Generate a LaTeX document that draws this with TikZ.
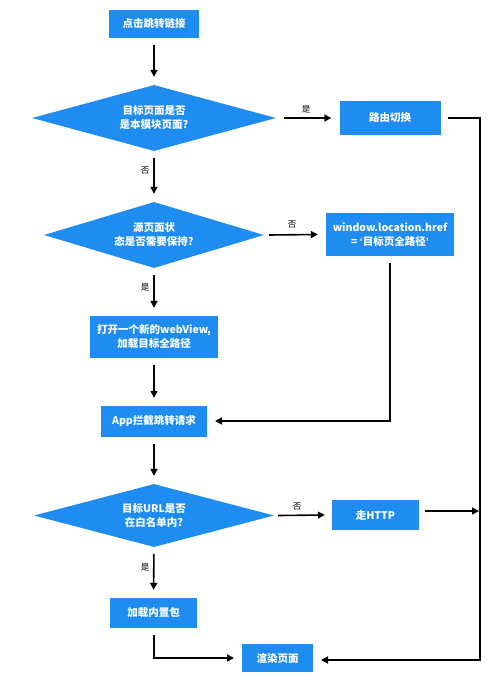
\documentclass[tikz,border=0pt]{standalone}
\usepackage{fontspec}
\setmainfont{Noto Sans CJK SC}
\newfontfamily\latinfont{Liberation Sans}
\usetikzlibrary{shapes.geometric,arrows.meta}
\definecolor{flowblue}{RGB}{30,140,240}
\begin{document}
\begin{tikzpicture}[x=1pt,y=-1pt,
  box/.style={fill=flowblue,text=white,font=\fontsize{10.5}{14}\selectfont\bfseries,align=center,inner sep=0pt,anchor=center},
  dec/.style={diamond,fill=flowblue,text=white,font=\fontsize{10.5}{14}\selectfont\bfseries,align=center,inner sep=0pt,aspect=3.6},
  lbl/.style={font=\fontsize{8.5}{10}\selectfont,text=black},
  arr/.style={line width=1.6pt,-{Triangle[length=7pt,width=7pt]}},
  gap/.style={shorten <=7pt,shorten >=8pt}]
\useasboundingbox (0,0) rectangle (492,679);
\fill[white] (0,0) rectangle (492,679);

\node[box,minimum width=90pt,minimum height=28pt] (start) at (154,24) {点击跳转链接};
\node[dec,minimum width=244pt,minimum height=66pt] (d1) at (154,118) {目标页面是否\\是本模块页面?};
\node[box,minimum width=101pt,minimum height=34pt] (route) at (390,118) {路由切换};
\node[dec,minimum width=220pt,minimum height=66pt] (d2) at (154,235) {源页面状\\态是否需要保持?};
\node[box,minimum width=128pt,minimum height=43pt] (href) at (390,234.5) {window.location.href\\= {\latinfont ‘}目标页全路径{\latinfont ’}};
\node[box,minimum width=128pt,minimum height=42pt] (webview) at (154,337) {打开一个新的webView,\\加载目标全路径};
\node[box,minimum width=106pt,minimum height=31pt] (app) at (154,421.5) {App拦截跳转请求};
\node[dec,minimum width=240pt,minimum height=63pt] (d3) at (154,515.5) {目标URL是否\\在白名单内?};
\node[box,minimum width=87pt,minimum height=30pt] (http) at (375.5,515) {走HTTP};
\node[box,minimum width=87pt,minimum height=30pt] (pkg) at (153.5,613) {加载内置包};
\node[box,minimum width=71pt,minimum height=28pt] (render) at (277.5,658) {渲染页面};

% connector end points (gaps next to the boxes)
\coordinate (routeOut) at (448,118);
\coordinate (rc1) at (480,118);
\coordinate (rc2) at (480,660);
\coordinate (renderIn) at (321,660);
\coordinate (hrefOut) at (390,263);
\coordinate (appIn) at (215,421);
\coordinate (httpOut) at (425,511);
\coordinate (httpEnd) at (479,511);
\coordinate (pkgOut) at (154,635);
\coordinate (renderInL) at (234,658);

\draw[arr,gap] (start.south) -- (d1.north);
\draw[arr] ([xshift=8pt]d1.east) -- ([xshift=-8pt]route.west);
\node[lbl] (l1) at (306,109) {是};
\draw[arr,gap] (d1.south) -- (d2.north);
\node[lbl] (l2) at (145,171) {否};
\draw[arr] ([xshift=5pt]d2.east) -- ([xshift=-8pt]href.west);
\node[lbl] (l3) at (292,225) {否};
\draw[arr,gap] (d2.south) -- (webview.north);
\node[lbl] (l4) at (145,287) {是};
\draw[arr,gap] (webview.south) -- (app.north);
\draw[arr,gap] (app.south) -- (d3.north);
\draw[arr] ([xshift=4pt]d3.east) -- ([xshift=-7pt]http.west);
\node[lbl] (l5) at (297,507) {否};
\draw[arr,gap] (d3.south) -- (pkg.north);
\node[lbl] (l6) at (145,567) {是};

\draw[arr] (routeOut) -- (rc1) -- (rc2) -- (renderIn);
\draw[arr] (hrefOut) |- (appIn);
\draw[arr] (httpOut) -- (httpEnd);
\draw[arr] (pkgOut) |- (renderInL);
\end{tikzpicture}
\end{document}
